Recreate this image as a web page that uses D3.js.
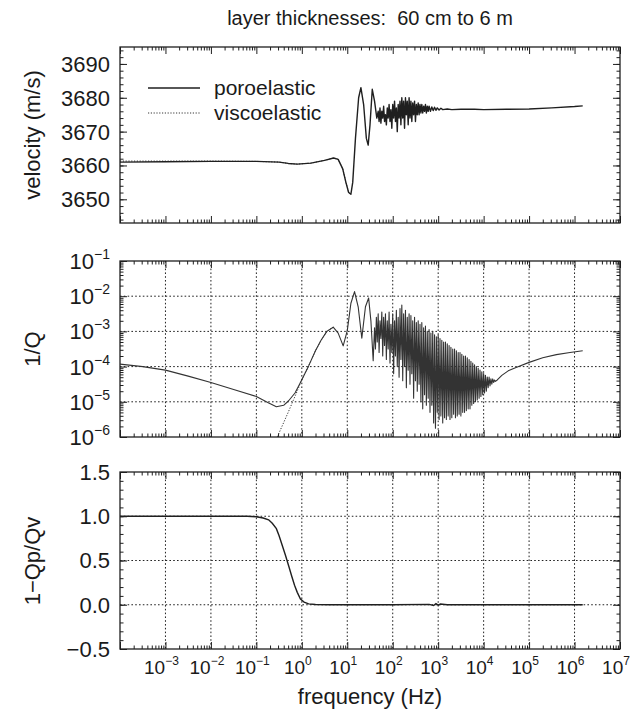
<!DOCTYPE html>
<html><head><meta charset="utf-8">
<script src="https://cdn.jsdelivr.net/npm/d3@7"></script>
<style>
body{margin:0;background:#fff}
text{font-family:"Liberation Sans",Arial,Helvetica,sans-serif;fill:#1a1a1a}
</style></head>
<body><svg id="c" width="638" height="711"></svg>
<script>
// ---------- DATA (frequency given as log10(Hz)) ----------
const titleText = "layer thicknesses:  60 cm to 6 m";
const seriesNames = ["poroelastic", "viscoelastic"];
const freqExponents = [-3,-2,-1,0,1,2,3,4,5,6,7];
const velTicks = [3650,3660,3670,3680,3690];
const invQExponents = [-6,-5,-4,-3,-2,-1];
const ratioTicks = [-0.5,0.0,0.5,1.0,1.5];

// velocity (m/s), poroelastic: [log10 f, v]
const velPoro = [
[-4.0,3661.0],[-3.0,3661.1],[-2.0,3661.2],[-1.0,3661.2],[-0.5,3661.0],[-0.3,3660.6],[-0.1,3660.4],
[0.2,3660.7],[0.5,3661.5],[0.7,3662.2],[0.8,3661.8],[0.9,3659],[0.97,3655],[1.03,3652],[1.08,3651.5],
[1.12,3655],[1.18,3668],[1.25,3680],[1.3,3683],[1.36,3678],[1.42,3668],[1.46,3666],[1.5,3672],
[1.55,3682.5],[1.6,3679],[1.65,3674],
[1.68,3676],[1.70,3673],[1.72,3677],[1.74,3672.5],[1.76,3676],[1.78,3674],[1.80,3677.5],[1.82,3673],
[1.84,3675],[1.86,3672],[1.88,3677],[1.90,3674],[1.92,3678],[1.94,3673],[1.96,3676.5],[1.98,3671],
[2.00,3678],[2.02,3674],[2.04,3679],[2.06,3673],[2.08,3677],[2.10,3670],[2.12,3678],[2.14,3674],
[2.16,3679],[2.18,3672],[2.20,3680],[2.22,3674],[2.24,3679],[2.26,3671],[2.28,3680],[2.30,3675],
[2.32,3679],[2.34,3672],[2.36,3680],[2.38,3674],[2.40,3679],[2.42,3673],[2.44,3678.5],[2.46,3675],
[2.48,3679],[2.50,3673],[2.52,3678],[2.54,3675],[2.56,3678.5],[2.58,3675],[2.60,3678],[2.62,3675.5],
[2.64,3678],[2.66,3675.5],[2.68,3677.5],[2.70,3676],[2.72,3678],[2.74,3675.5],[2.76,3677.5],[2.78,3676],
[2.80,3677.5],[2.83,3676],[2.86,3677.3],[2.89,3676.2],[2.92,3677.2],[2.95,3676.3],[2.98,3677],[3.02,3676.4],
[3.06,3676.9],[3.1,3676.5],[3.2,3676.7],[3.3,3676.5],[3.5,3676.6],[3.8,3676.6],[4.0,3676.5],[4.5,3676.6],
[5.0,3676.7],[5.5,3677.0],[6.0,3677.4],[6.18,3677.6]
];
// velocity, viscoelastic (coincides with poroelastic above ~10 Hz)
const velVisco = [
[-4.0,3661.3],[-3.0,3661.3],[-2.0,3661.3],[-1.0,3661.2],[-0.5,3661.0],[-0.3,3660.6],[-0.1,3660.4],
[0.2,3660.7],[0.5,3661.5],[0.7,3662.2],[0.8,3661.8],[0.9,3659],[0.97,3655],[1.03,3652],[1.08,3651.5]
];

// 1/Q poroelastic: [log10 f, log10(1/Q)]
const invQPoro = [
[-4.0,-3.93],[-3.5,-4.0],[-3.0,-4.10],[-2.5,-4.27],[-2.0,-4.45],[-1.5,-4.65],[-1.0,-4.85],[-0.75,-5.02],
[-0.56,-5.14],[-0.4,-5.1],[-0.29,-4.97],[-0.15,-4.75],[-0.03,-4.45],[0.15,-3.98],[0.3,-3.55],[0.42,-3.26],
[0.55,-3.0],[0.69,-2.88],[0.8,-3.05],[0.91,-3.41],[1.0,-2.98],[1.08,-2.2],[1.16,-1.87],[1.24,-2.3],
[1.32,-3.19],[1.4,-2.3],[1.47,-2.05],[1.52,-2.7],[1.57,-3.83],
[1.60,-2.9],[1.62,-3.5],[1.64,-2.6],[1.66,-3.3],[1.68,-2.5],[1.70,-3.6],[1.72,-2.7],[1.74,-3.2],
[1.76,-2.45],[1.78,-3.7],[1.80,-2.6],[1.82,-3.4],[1.84,-2.5],[1.86,-3.8],[1.88,-2.7],[1.90,-3.5],
[1.92,-2.45],[1.94,-3.9],[1.96,-2.8],[1.98,-3.6],[2.00,-2.5],[2.02,-4.2],[2.04,-2.7],[2.06,-3.7],
[2.08,-2.4],[2.10,-4.0],[2.12,-2.6],[2.14,-4.3],[2.16,-2.35],[2.18,-3.8],[2.20,-2.25],[2.22,-4.4],
[2.24,-2.5],[2.26,-4.0],[2.28,-2.4],[2.30,-4.6],[2.32,-2.6],[2.34,-4.1],[2.36,-2.5],[2.38,-4.5],
[2.40,-2.55],[2.42,-4.2],[2.44,-2.7],[2.46,-4.9],[2.48,-2.6],[2.50,-4.4],[2.52,-2.75],[2.54,-4.7],
[2.56,-2.7],[2.58,-4.5],[2.60,-2.8],[2.62,-5.0],[2.64,-2.75],[2.66,-5.2],[2.68,-2.9],[2.70,-4.8],
[2.72,-2.85],[2.74,-5.1],[2.76,-3.0],[2.78,-4.9],[2.80,-2.95],[2.82,-5.3],[2.84,-3.05],[2.86,-5.1],
[2.88,-3.0],[2.90,-5.6],[2.92,-3.1],[2.94,-5.75],[2.96,-3.15],[2.98,-5.3],[3.00,-3.1],[3.02,-5.5],
[3.04,-3.2],[3.06,-5.4],[3.08,-3.25],[3.10,-5.6],[3.12,-3.3],[3.14,-5.45],[3.16,-3.3],[3.18,-5.5],
[3.20,-3.35],[3.22,-5.4],[3.24,-3.4],[3.26,-5.5],[3.28,-3.45],[3.30,-5.45],[3.32,-3.5],[3.34,-5.35],
[3.36,-3.5],[3.38,-5.45],[3.40,-3.55],[3.42,-5.4],[3.44,-3.6],[3.46,-5.35],[3.48,-3.6],[3.50,-5.4],
[3.52,-3.65],[3.54,-5.3],[3.56,-3.7],[3.58,-5.3],[3.60,-3.7],[3.62,-5.25],[3.64,-3.75],[3.66,-5.2],
[3.68,-3.8],[3.70,-5.2],[3.72,-3.85],[3.74,-5.1],[3.76,-3.9],[3.78,-5.05],[3.80,-3.95],[3.82,-5.0],
[3.84,-4.0],[3.86,-4.95],[3.88,-4.05],[3.90,-4.9],[3.92,-4.1],[3.94,-4.85],[3.96,-4.15],[3.98,-4.8],
[4.00,-4.2],[4.02,-4.75],[4.04,-4.25],[4.06,-4.7],[4.08,-4.3],[4.10,-4.6],[4.12,-4.3],[4.14,-4.55],
[4.16,-4.35],[4.18,-4.5],[4.20,-4.35],[4.22,-4.45],[4.24,-4.38],[4.26,-4.42],[4.30,-4.38],
[4.4,-4.25],[4.54,-4.12],[4.7,-4.03],[5.0,-3.88],[5.3,-3.75],[5.6,-3.66],[5.9,-3.6],[6.18,-3.55]
];
// 1/Q viscoelastic (differs only below ~1 Hz)
const invQVisco = [
[-0.8,-6.8],[-0.54,-6.0],[-0.3,-5.3],[-0.07,-4.6],[-0.03,-4.45],[0.15,-3.98],[0.3,-3.55],[0.42,-3.26],
[0.55,-3.0],[0.69,-2.88]
];

// 1 - Qp/Qv
const qRatio = [
[-4.0,1.0],[-3.0,1.0],[-2.0,1.0],[-1.2,1.0],[-1.0,0.995],[-0.85,0.98],[-0.73,0.96],[-0.65,0.92],
[-0.56,0.86],[-0.5,0.78],[-0.43,0.67],[-0.36,0.56],[-0.29,0.44],[-0.22,0.32],[-0.16,0.22],[-0.1,0.14],
[-0.03,0.064],[0.05,0.03],[0.15,0.01],[0.3,0.003],[0.6,0.0],[1.0,0.0],[2.0,0.0],[2.8,0.004],
[2.9,-0.008],[2.95,0.012],[3.0,-0.005],[3.05,0.008],[3.2,0.0],[4.0,0.0],[5.0,0.0],[6.18,0.0]
];

// ---------- LAYOUT ----------
const svg = d3.select("#c");
const X0 = 120, X1 = 620;
const x = d3.scaleLog().domain([1e-4, 1e7]).range([X0, X1]);
const fx = d => x(Math.pow(10, d[0]));
const ink = "#1f1f1f";

const panels = [
  {top:47, bot:223, y:d3.scaleLinear().domain([3643,3695]).range([223,47]), grid:false},
  {top:261, bot:437, y:d3.scaleLog().domain([1e-6,1e-1]).range([437,261]), grid:true},
  {top:472, bot:649, y:d3.scaleLinear().domain([-0.5,1.5]).range([649,472]), grid:true}
];

const xMinor = [];
for (let e=-4; e<7; e++) for (let k=2; k<10; k++) xMinor.push(k*Math.pow(10,e));
const xMajor = d3.range(-4, 8).map(e => Math.pow(10, e));

panels.forEach((p, i) => {
  const g = svg.append("g");
  const cid = "clip" + i;
  svg.append("clipPath").attr("id", cid).append("rect")
    .attr("x", X0).attr("y", p.top).attr("width", X1 - X0).attr("height", p.bot - p.top);

  if (p.grid) {
    const gg = g.append("g").attr("stroke", "#222").attr("stroke-width", 1).attr("stroke-dasharray", "1.6,2.2");
    gg.selectAll("line.v").data(freqExponents.slice(0, 10)).join("line")
      .attr("x1", e => x(Math.pow(10, e))).attr("x2", e => x(Math.pow(10, e)))
      .attr("y1", p.top).attr("y2", p.bot);
    const hv = i === 1 ? [1e-5,1e-4,1e-3,1e-2] : [0.0,0.5,1.0];
    gg.selectAll("line.h").data(hv).join("line")
      .attr("x1", X0).attr("x2", X1).attr("y1", d => p.y(d)).attr("y2", d => p.y(d));
  }

  const axB = (vals, len) => d3.axisBottom(x).tickValues(vals).tickSize(-len).tickFormat("");
  const axT = (vals, len) => d3.axisTop(x).tickValues(vals).tickSize(-len).tickFormat("");
  [[xMinor,3.5],[xMajor,7]].forEach(([v, l]) => {
    g.append("g").attr("transform", `translate(0,${p.bot})`).call(axB(v, l));
    g.append("g").attr("transform", `translate(0,${p.top})`).call(axT(v, l));
  });
  let yMaj, yMin;
  if (i === 0) { yMaj = velTicks; yMin = d3.range(3644, 3695, 2); }
  else if (i === 1) { yMaj = invQExponents.map(e => Math.pow(10, e)); yMin = []; for (let e=-6;e<-1;e++) for (let k=2;k<10;k++) yMin.push(k*Math.pow(10,e)); }
  else { yMaj = ratioTicks; yMin = d3.range(-0.4, 1.45, 0.1); }
  [[yMin,3.5],[yMaj,7]].forEach(([v, l]) => {
    g.append("g").attr("transform", `translate(${X0},0)`).call(d3.axisLeft(p.y).tickValues(v).tickSize(-l).tickFormat(""));
    g.append("g").attr("transform", `translate(${X1},0)`).call(d3.axisRight(p.y).tickValues(v).tickSize(-l).tickFormat(""));
  });
  g.selectAll(".domain").remove();
  g.selectAll(".tick line").attr("stroke", ink).attr("stroke-width", 1);

  g.append("rect").attr("x", X0).attr("y", p.top).attr("width", X1 - X0).attr("height", p.bot - p.top)
    .attr("fill", "none").attr("stroke", ink).attr("stroke-width", 1.3);
  p.g = g; p.clip = `url(#${cid})`;
});

// ---------- CURVES ----------
const P1 = panels[0], P2 = panels[1], P3 = panels[2];
const line1 = d3.line().x(fx).y(d => P1.y(d[1]));
const line2 = d3.line().x(fx).y(d => P2.y(Math.pow(10, d[1])));
const line3 = d3.line().x(fx).y(d => P3.y(d[1]));

P1.g.append("path").attr("d", line1(velVisco)).attr("clip-path", P1.clip)
  .attr("fill", "none").attr("stroke", ink).attr("stroke-width", 0.9).attr("stroke-dasharray", "1.2,1.6");
P1.g.append("path").attr("d", line1(velPoro)).attr("clip-path", P1.clip)
  .attr("fill", "none").attr("stroke", ink).attr("stroke-width", 1.4).attr("stroke-linejoin", "round");

P2.g.append("path").attr("d", line2(invQVisco)).attr("clip-path", P2.clip)
  .attr("fill", "none").attr("stroke", ink).attr("stroke-width", 0.9).attr("stroke-dasharray", "1.2,1.6");
P2.g.append("path").attr("d", line2(invQPoro)).attr("clip-path", P2.clip)
  .attr("fill", "none").attr("stroke", "#333").attr("stroke-width", 1.1).attr("stroke-linejoin", "round");

P3.g.append("path").attr("d", line3(qRatio)).attr("clip-path", P3.clip)
  .attr("fill", "none").attr("stroke", ink).attr("stroke-width", 1.4);

// ---------- LEGEND ----------
const leg = P1.g.append("g");
[[88, null], [113, "1.2,1.6"]].forEach(([yy, dash], k) => {
  leg.append("line").attr("x1", 148).attr("x2", 200).attr("y1", yy).attr("y2", yy)
    .attr("stroke", ink).attr("stroke-width", k ? 0.9 : 1.4).attr("stroke-dasharray", dash);
  leg.append("text").attr("x", 214).attr("y", yy).attr("dy", "0.35em")
    .attr("font-size", 21).text(seriesNames[k]);
});

// ---------- TEXT ----------
svg.append("text").attr("x", 370).attr("y", 25).attr("text-anchor", "middle")
  .attr("font-size", 20).attr("xml:space", "preserve").style("white-space", "pre").text(titleText);

velTicks.forEach(v => svg.append("text").attr("x", 110).attr("y", P1.y(v)).attr("dy", "0.36em")
  .attr("text-anchor", "end").attr("font-size", 22).text(v));
invQExponents.forEach(e => {
  const t = svg.append("text").attr("x", 110).attr("y", P2.y(Math.pow(10, e)) + 8)
    .attr("text-anchor", "end").attr("font-size", 22);
  t.append("tspan").text("10");
  t.append("tspan").attr("dy", -10).attr("font-size", 14).text("−" + Math.abs(e));
});
ratioTicks.forEach(v => svg.append("text").attr("x", 110).attr("y", P3.y(v)).attr("dy", "0.36em")
  .attr("text-anchor", "end").attr("font-size", 22).text((v < 0 ? "−" : "") + Math.abs(v).toFixed(1)));

freqExponents.forEach(e => {
  const t = svg.append("text").attr("x", x(Math.pow(10, e)) - 4).attr("y", 674)
    .attr("text-anchor", "middle").attr("font-size", 19);
  t.append("tspan").text("10");
  t.append("tspan").attr("dy", -9).attr("font-size", 12).text((e < 0 ? "−" : "") + Math.abs(e));
});

svg.append("text").attr("x", 370).attr("y", 704).attr("text-anchor", "middle").attr("font-size", 22)
  .text("frequency (Hz)");
[["velocity (m/s)", 135], ["1/Q", 349], ["1−Qp/Qv", 561]].forEach(([s, cy]) =>
  svg.append("text").attr("transform", `translate(40,${cy}) rotate(-90)`).attr("text-anchor", "middle")
    .attr("font-size", 22).text(s));
</script></body></html>
